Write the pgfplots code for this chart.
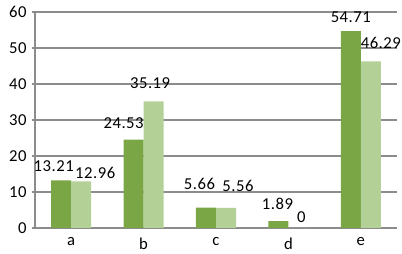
\documentclass[border=0pt]{standalone}
\usepackage{fontspec}
\setmainfont{Carlito}[LetterSpace=3]
\usepackage{pgfplots}
\usepackage{pgfplotstable}
\pgfplotsset{compat=1.18}
\definecolor{darkg}{HTML}{7AA646}
\definecolor{lightg}{HTML}{B3D196}
\definecolor{gridg}{HTML}{8C8C8C}
\pgfplotstableread{
x y dx dy
0 13.21 -5.4 10.6
1 24.53 -7.2 12.2
2 5.66 -4.7 17.0
3 1.89 -0.7 12.2
4 54.71 0 10.1
}\seriesA
\pgfplotstableread{
x y dx dy
0 12.96 10.1 5.8
1 35.19 -2.5 13.0
2 5.56 8.6 15.8
3 0 2.2 7.9
4 46.29 7.2 13.0
}\seriesB
\begin{document}
\begin{tikzpicture}
\useasboundingbox (-25.2pt,-18.7pt) rectangle (264.2pt,164.1pt);
\begin{axis}[
  scale only axis, width=260.6pt, height=155.5pt,
  anchor=south west, at={(0,0)},
  ybar=0pt, bar width=14.4pt,
  xmin=-0.5, xmax=4.5, ymin=0, ymax=60,
  xtick={0,1,2,3,4}, xticklabels={a,b,c,d,e},
  ytick={0,10,...,60},
  axis x line=bottom, axis y line=left,
  axis line style={draw=gridg, line width=0.8pt, -},
  ymajorgrids, grid style={draw=gridg, line width=0.8pt},
  x tick style={draw=none},
  y tick style={draw=gridg, line width=0.8pt},
  tick align=outside, major tick length=2.5pt,
  /pgf/number format/assume math mode=true,
  tick label style={font=\fontsize{12}{14}\selectfont, text=black},
  xticklabel style={yshift=-1pt},
  yticklabel style={xshift=0pt},
  nodes near coords,
  visualization depends on={\thisrow{dx} \as \dx},
  visualization depends on={\thisrow{dy} \as \dy},
  every node near coord/.append style={font=\fontsize{12}{14}\selectfont, text=black, anchor=center, xshift=\dx pt, yshift=\dy pt},
  clip=false,
]
\addplot[fill=darkg, draw=none] table[x=x, y=y] {\seriesA};
\addplot[fill=lightg, draw=none] table[x=x, y=y] {\seriesB};
\end{axis}
\end{tikzpicture}
\end{document}
